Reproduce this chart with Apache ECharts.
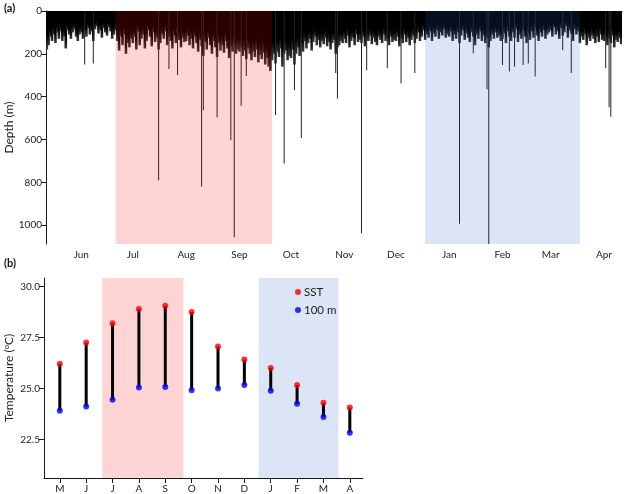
<!DOCTYPE html>
<html><head><meta charset="utf-8">
<script src="https://cdn.jsdelivr.net/npm/echarts@6/dist/echarts.min.js"></script>
<style>html,body{margin:0;padding:0;background:#fff}#c{width:625px;height:494px}</style>
</head><body><div id="c"></div>
<script>
// ---------- Panel (a): daily maximum dive depth (m) ----------
const START_DATE = '2018-05-12';
const depthMay = [180,160,120,140,110,150,100,130,95,140,120,175,90,110,130,100,85,120,140,110];
const depthJun = [100,130,90,120,80,110,95,140,85,70,105,90,125,80,100,115,75,95,130,110,90,140,185,120,160,110,200,150,170,130];
const depthJul = [150,120,180,95,160,130,110,175,140,90,120,165,100,145,125,180,150,110,130,95,160,120,140,175,115,150,100,135,170,125,145];
const depthAug = [140,115,160,130,175,120,150,190,135,165,210,145,180,125,160,200,140,170,215,150,185,160,195,140,175,220,165,190,155,200,180];
const depthSep = [190,170,210,185,225,175,200,230,190,215,180,240,205,225,195,250,220,260,280,230,200,245,190,215,175,260,200,185,230,210];
const depthOct = [220,180,250,200,170,210,160,190,140,175,150,130,185,145,120,160,135,170,140,155,125,165,145,180,150,135,200,170,160,140,150];
const depthNov = [130,150,115,170,140,125,160,110,145,135,150,120,165,130,140,115,155,125,145,160,120,135,150,110,140,130,160,120,145,135];
const depthDec = [140,120,165,130,150,110,145,125,160,135,115,150,130,100,140,120,90,135,110,125,95,140,105,120,90,130,100,115,85,125,110];
const depthJan = [120,95,140,110,130,100,150,115,90,135,105,125,145,100,120,160,110,130,95,140,115,150,125,170,140,110,130,100,125,115,140];
const depthFeb = [130,105,150,95,120,140,100,125,85,145,110,130,90,120,150,105,135,95,125,80,115,140,100,120,90,130,110,100];
const depthMar = [90,120,75,110,95,130,80,115,100,70,125,90,105,140,85,110,95,150,120,135,110,160,125,140,115,130,150,120,145,110,135];
const depthApr = [140,120,160,130,150,115,170,135,145,125,155];

// occasional deep dives
const spikeDates = ['2018-06-03','2018-06-08','2018-07-16','2018-07-22','2018-07-27','2018-08-10','2018-08-11','2018-08-19','2018-08-27','2018-08-29',
  '2018-09-02','2018-09-05','2018-09-22','2018-09-27','2018-10-03','2018-10-07','2018-10-27','2018-10-28','2018-11-11','2018-11-14','2018-11-26',
  '2018-12-04','2018-12-12','2019-01-07','2019-01-15','2019-01-23','2019-01-24','2019-02-01','2019-02-05','2019-02-08','2019-02-13','2019-02-16','2019-02-20',
  '2019-03-08','2019-03-13','2019-04-02','2019-04-04','2019-04-05'];
const spikeDepths = [250,245,790,271,299,820,463,497,603,1057,
  443,303,486,712,370,593,290,408,1038,276,267,
  338,289,993,197,366,1088,252,283,260,252,245,306,
  183,290,267,450,494];

const summerA = ['2018-06-21','2018-09-20'];
const winterA = ['2018-12-18','2019-03-18'];
const depthTicks = [0,200,400,600,800,1000];
const monthAbbr = ['Jan','Feb','Mar','Apr','May','Jun','Jul','Aug','Sep','Oct','Nov','Dec'];

// ---------- Panel (b): monthly temperatures ----------
const tempMonths = ['M','J','J','A','S','O','N','D','J','F','M','A'];
const sst  = [26.21,27.25,28.20,28.89,29.05,28.74,27.06,26.42,26.01,25.17,24.30,24.07];
const t100 = [23.91,24.12,24.45,25.05,25.08,24.92,25.00,25.17,24.89,24.25,23.60,22.84];
const tempTicks = [22.5,25.0,27.5,30.0];
const summerB = [2.61,5.69];
const winterB = [8.54,11.57];

// ---------- build ----------
const depthAll = [].concat(depthMay,depthJun,depthJul,depthAug,depthSep,depthOct,depthNov,depthDec,depthJan,depthFeb,depthMar,depthApr);
const dates = [];
const d0 = new Date(START_DATE + 'T00:00:00Z').getTime();
for (let i = 0; i < depthAll.length; i++) dates.push(new Date(d0 + i*86400000).toISOString().slice(0,10));
const isFirst = (i, v) => v.slice(8) === '01';
const FONT = 'Lato';
const AX = '#1a1a1a';
const PINK = 'rgba(255,0,0,0.17)';
const BLUE = 'rgba(30,95,190,0.16)';
const monthPos = tempMonths.map((m,i)=>i+1);

const chart = echarts.init(document.getElementById('c'), null, {renderer:'canvas'});
chart.setOption({
  animation:false,
  textStyle:{fontFamily:FONT},
  graphic:[
    {type:'text', left:4, top:3, style:{text:'(a)', font:'bold 11px Lato', fill:'#111'}},
    {type:'text', left:4, top:258, style:{text:'(b)', font:'bold 11px Lato', fill:'#111'}}
  ],
  legend:{data:['SST','100 m'], orient:'vertical', left:290, top:281, icon:'circle', itemWidth:6, itemHeight:6, itemGap:6,
    textStyle:{fontSize:11.5, color:'#222', fontFamily:FONT, padding:[0,0,0,-2]}},
  grid:[
    {left:46, top:11, width:576, height:233, containLabel:false, outerBoundsMode:'none'},
    {left:44, top:278, width:319, height:200, containLabel:false, outerBoundsMode:'none'}
  ],
  xAxis:[
    {type:'category', gridIndex:0, data:dates, boundaryGap:true,
      axisLine:{lineStyle:{color:AX}},
      axisTick:{alignWithLabel:true, interval:isFirst, length:5, lineStyle:{color:AX}},
      axisLabel:{interval:isFirst, formatter:v=>monthAbbr[+v.slice(5,7)-1], color:'#222', fontSize:10, margin:6, fontFamily:FONT},
      splitLine:{show:false}},
    {type:'category', gridIndex:0, data:dates, boundaryGap:true, show:false},
    {type:'value', gridIndex:1, min:0.4, max:12.5,
      axisLine:{show:true, onZero:false, lineStyle:{color:AX}},
      axisTick:{show:true, customValues:monthPos, length:5, lineStyle:{color:AX}},
      axisLabel:{customValues:monthPos, formatter:v=>tempMonths[Math.round(v)-1]||'', color:'#222', fontSize:10, margin:6, fontFamily:FONT},
      splitLine:{show:false}}
  ],
  yAxis:[
    {type:'value', gridIndex:0, inverse:true, min:0, max:1088,
      name:'Depth (m)', nameLocation:'middle', nameGap:31, nameMoveOverlap:false, nameTextStyle:{fontSize:12, color:'#222', fontFamily:FONT},
      axisLine:{show:true, lineStyle:{color:AX}},
      axisTick:{show:true, customValues:depthTicks, length:5, lineStyle:{color:AX}},
      axisLabel:{customValues:depthTicks, formatter:v=>String(Math.round(v)), color:'#222', fontSize:10, margin:4, fontFamily:FONT},
      splitLine:{show:false}},
    {type:'value', gridIndex:1, min:20.62, max:30.41,
      name:'Temperature ({s|o}C)', nameLocation:'middle', nameGap:29, nameMoveOverlap:false,
      nameTextStyle:{fontSize:12, color:'#222', fontFamily:FONT, rich:{s:{fontSize:7.5, verticalAlign:'top', color:'#222', fontFamily:FONT}}},
      axisLine:{show:true, onZero:false, lineStyle:{color:AX}},
      axisTick:{show:true, customValues:tempTicks, length:5, lineStyle:{color:AX}},
      axisLabel:{customValues:tempTicks, formatter:v=>v.toFixed(1), color:'#222', fontSize:10, margin:4, fontFamily:FONT},
      splitLine:{show:false}}
  ],
  series:[
    {type:'bar', name:'depth', xAxisIndex:0, yAxisIndex:0, data:depthAll, barWidth:2.6, z:2, silent:true,
      itemStyle:{color:new echarts.graphic.LinearGradient(0,0,0,1,[{offset:0,color:'#000'},{offset:0.7,color:'#000'},{offset:1,color:'#3a3a3a'}])}},
    {type:'bar', name:'deep', xAxisIndex:1, yAxisIndex:0, data:spikeDates.map((d,i)=>[d, spikeDepths[i]]), barWidth:1, z:3, silent:true,
      itemStyle:{color:'#222'}},
    {type:'line', name:'shadeA', xAxisIndex:0, yAxisIndex:0, data:[], z:20, silent:true,
      markArea:{silent:true, z:20, data:[
        [{xAxis:summerA[0], itemStyle:{color:PINK}},{xAxis:summerA[1]}],
        [{xAxis:winterA[0], itemStyle:{color:BLUE}},{xAxis:winterA[1]}]
      ]}},
    {type:'custom', name:'range', xAxisIndex:2, yAxisIndex:1, z:3, silent:true,
      data:monthPos.map((x,i)=>[x, sst[i], t100[i]]),
      renderItem:(params, api)=>{
        const x = api.value(0);
        const p1 = api.coord([x, api.value(1)]);
        const p2 = api.coord([x, api.value(2)]);
        return {type:'line', shape:{x1:p1[0], y1:p1[1], x2:p2[0], y2:p2[1]}, style:{stroke:'#000', lineWidth:3}};
      },
      markArea:{silent:true, z:1, data:[
        [{xAxis:summerB[0], itemStyle:{color:PINK}},{xAxis:summerB[1]}],
        [{xAxis:winterB[0], itemStyle:{color:BLUE}},{xAxis:winterB[1]}]
      ]}},
    {type:'scatter', name:'SST', xAxisIndex:2, yAxisIndex:1, z:5, symbolSize:6, itemStyle:{color:'#ff0000'},
      data:monthPos.map((x,i)=>[x, sst[i]])},
    {type:'scatter', name:'100 m', xAxisIndex:2, yAxisIndex:1, z:5, symbolSize:6, itemStyle:{color:'#0000ff'},
      data:monthPos.map((x,i)=>[x, t100[i]])}
  ]
});
</script></body></html>
